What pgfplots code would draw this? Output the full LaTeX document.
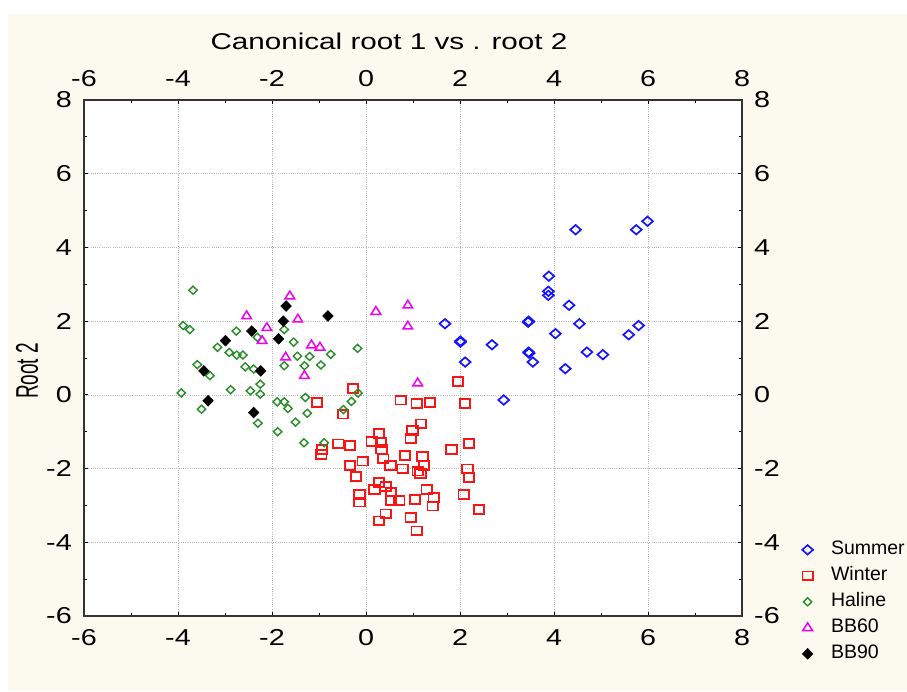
\documentclass[border=0pt]{standalone}
\usepackage{pgfplots}
\pgfplotsset{compat=1.18}
\usepackage{fontspec}
\setmainfont{Liberation Sans}
\newfontfamily\tickfont[FakeStretch=1.25]{Liberation Sans}
\newfontfamily\titlefont[FakeStretch=1.3]{Liberation Sans}
\definecolor{bgc}{RGB}{252,250,238}
\definecolor{sumc}{RGB}{20,20,255}
\definecolor{winc}{RGB}{250,20,20}
\definecolor{halc}{RGB}{40,140,40}
\definecolor{bbsix}{RGB}{240,0,240}
\pgfdeclareplotmark{sdia}{%
  \pgfpathmoveto{\pgfqpoint{0pt}{4.7pt}}\pgfpathlineto{\pgfqpoint{5.4pt}{0pt}}%
  \pgfpathlineto{\pgfqpoint{0pt}{-4.7pt}}\pgfpathlineto{\pgfqpoint{-5.4pt}{0pt}}%
  \pgfpathclose\pgfusepathqstroke}
\pgfdeclareplotmark{wsq}{%
  \pgfpathrectangle{\pgfqpoint{-5.2pt}{-4.4pt}}{\pgfqpoint{10.4pt}{8.8pt}}\pgfusepathqstroke}
\pgfdeclareplotmark{hdia}{%
  \pgfpathmoveto{\pgfqpoint{0pt}{4pt}}\pgfpathlineto{\pgfqpoint{4.2pt}{0pt}}%
  \pgfpathlineto{\pgfqpoint{0pt}{-4pt}}\pgfpathlineto{\pgfqpoint{-4.2pt}{0pt}}%
  \pgfpathclose\pgfusepathqstroke}
\pgfdeclareplotmark{btri}{%
  \pgfpathmoveto{\pgfqpoint{0pt}{5pt}}\pgfpathlineto{\pgfqpoint{4.8pt}{-2.7pt}}%
  \pgfpathlineto{\pgfqpoint{-4.8pt}{-2.7pt}}\pgfpathclose\pgfusepathqstroke}
\pgfdeclareplotmark{kdia}{%
  \pgfpathmoveto{\pgfqpoint{0pt}{5.4pt}}\pgfpathlineto{\pgfqpoint{5.3pt}{0pt}}%
  \pgfpathlineto{\pgfqpoint{0pt}{-5.4pt}}\pgfpathlineto{\pgfqpoint{-5.3pt}{0pt}}%
  \pgfpathclose\pgfusepathqfillstroke}
\pgfplotsset{
  mymarks/.style={only marks, legend image code/.code={\draw[##1] plot coordinates {(0pt,0pt)};}},
  myaxis/.style={
    at={(84pt,75pt)}, anchor=south west,
    width=658pt, height=516pt, scale only axis,
    xmin=-6, xmax=8, ymin=-6, ymax=8,
    xtick={-6,-4,...,8}, ytick={-6,-4,...,8},
    minor xtick={-5,-3,...,7}, minor ytick={-5,-3,...,7},
    /pgf/number format/assume math mode=true,
    ticklabel style={font=\tickfont\fontsize{23}{23}\selectfont, inner sep=0pt},
    xticklabel shift=13pt, yticklabel shift=12pt,
  }
}
\begin{document}
\begin{tikzpicture}[x=1pt,y=1pt]
\useasboundingbox (0,0) rectangle (907,691);
\fill[white] (0,0) rectangle (907,691);
\fill[bgc] (8,0) rectangle (907,677);
\begin{axis}[myaxis,
  axis background/.style={fill=white},
  tick align=inside, major tick length=4pt, minor tick length=3pt,
  tick style={black, line width=0.9pt},
  grid=major, major grid style={gray!55, dash pattern=on 0.8pt off 1.4pt, line width=0.7pt},
  axis line style={line width=1.6pt, black!80},
  legend style={at={(axis description cs:1.0912,0.148)}, anchor=north west,
    draw=none, fill=none, inner sep=0pt, row sep=6pt, column sep=17pt,
    font=\fontsize{19.5}{19.5}\selectfont,
    nodes={inner sep=1pt, text height=14pt, text depth=4pt}},
  legend cell align=left,
]
\addplot[mymarks, color=sumc, mark=sdia, line width=1.7pt] table {
x y
4.46 4.48
5.75 4.48
5.99 4.71
3.89 3.22
3.88 2.81
3.88 2.70
4.32 2.43
1.68 1.93
3.46 2.00
3.45 1.97
4.54 1.93
5.80 1.88
4.03 1.66
5.59 1.63
2.01 1.46
2.01 1.43
2.68 1.36
3.46 1.16
3.47 1.13
4.70 1.16
5.04 1.09
2.11 0.89
3.55 0.89
4.24 0.71
2.93 -0.14
};
\addlegendentry{Summer}
\addplot[mymarks, color=winc, mark=wsq, line width=1.8pt] table {
x y
-0.28 0.18
1.96 0.36
-1.04 -0.21
0.74 -0.14
1.08 -0.23
1.36 -0.21
2.11 -0.23
-0.49 -0.52
1.17 -0.79
0.99 -0.96
0.95 -1.19
0.28 -1.05
0.12 -1.26
0.32 -1.29
-0.59 -1.33
-0.34 -1.38
-0.94 -1.48
-0.95 -1.62
0.33 -1.47
1.82 -1.49
2.19 -1.32
0.83 -1.65
1.20 -1.68
0.37 -1.74
-0.07 -1.80
-0.34 -1.92
0.52 -1.92
1.23 -1.92
0.78 -2.01
1.10 -2.07
1.16 -2.14
2.16 -2.01
-0.21 -2.21
2.19 -2.25
0.28 -2.37
0.42 -2.48
0.18 -2.57
0.53 -2.64
1.29 -2.57
1.44 -2.79
-0.14 -2.70
-0.14 -2.91
0.53 -2.86
0.71 -2.86
1.04 -2.84
1.42 -3.02
2.08 -2.70
2.40 -3.11
0.42 -3.23
0.28 -3.42
0.95 -3.33
1.08 -3.69
};
\addlegendentry{Winter}
\addplot[mymarks, color=halc, mark=hdia, line width=1.4pt] table {
x y
-3.68 2.84
-3.89 1.88
-3.75 1.77
-2.76 1.73
-3.16 1.29
-2.91 1.15
-2.75 1.08
-2.62 1.08
-2.31 1.56
-1.74 1.77
-1.54 1.43
-3.59 0.82
-3.32 0.52
-2.57 0.76
-2.39 0.70
-2.25 0.29
-2.25 0.02
-2.46 0.11
-2.88 0.14
-3.93 0.05
-3.50 -0.39
-2.30 -0.77
-1.89 -0.19
-1.74 -0.19
-1.66 -0.37
-1.29 -0.07
-1.25 -0.50
-1.50 -0.74
-1.88 -1.00
-1.32 -1.30
-0.89 -1.30
-1.46 1.05
-1.20 1.04
-1.74 0.79
-1.31 0.79
-0.96 0.81
-0.75 1.10
-0.18 1.26
-0.17 0.05
-0.31 -0.18
-0.48 -0.40
};
\addlegendentry{Haline}
\addplot[mymarks, color=bbsix, mark=btri, line width=1.5pt] table {
x y
-1.62 2.68
-2.54 2.14
-1.45 2.05
-2.11 1.82
-2.21 1.47
-1.16 1.35
-0.98 1.29
-1.71 1.02
-1.31 0.52
0.21 2.26
0.89 2.43
0.89 1.86
1.10 0.32
};
\addlegendentry{BB60}
\addplot[mymarks, color=black, fill=black, mark=kdia, line width=0.5pt] table {
x y
-1.70 2.41
-1.76 2.00
-0.81 2.14
-2.43 1.73
-2.99 1.47
-1.86 1.52
-3.45 0.65
-2.24 0.65
-3.36 -0.16
-2.39 -0.48
};
\addlegendentry{BB90}
\end{axis}
\begin{axis}[myaxis,
  xticklabel pos=upper, yticklabel pos=right,
  major tick length=0pt, minor tick length=0pt,
  axis line style={draw=none},
]
\end{axis}
\node[font=\titlefont\fontsize{22.8}{22.8}\selectfont, anchor=base, inner sep=0pt] at (389,641.7) {Canonical root 1 vs . root 2};
\node[font=\fontsize{19}{19}\selectfont, rotate=90, anchor=base, inner sep=0pt] at (38,320) {\scalebox{1}[1.65]{Root 2}};
\end{tikzpicture}
\end{document}
